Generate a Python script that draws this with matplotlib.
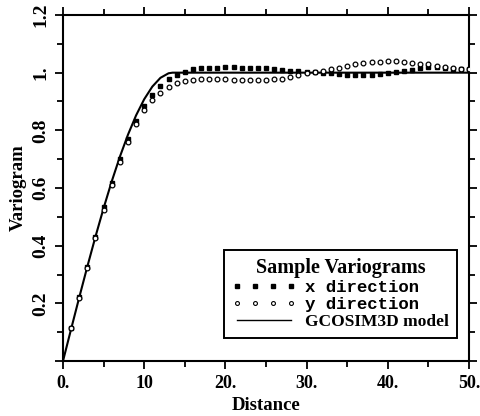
import matplotlib
matplotlib.use("Agg")
import matplotlib.pyplot as plt
from matplotlib.lines import Line2D

# ---- data ----
lag = list(range(1, 51))
x_dir = [0.115, 0.222, 0.326, 0.430, 0.533, 0.618, 0.699, 0.769, 0.833, 0.884,
         0.922, 0.954, 0.977, 0.992, 1.003, 1.012, 1.015, 1.016, 1.017, 1.019,
         1.018, 1.017, 1.017, 1.017, 1.015, 1.013, 1.009, 1.007, 1.005, 1.003,
         1.002, 1.000, 0.998, 0.995, 0.993, 0.993, 0.993, 0.993, 0.995, 0.998,
         1.001, 1.006, 1.010, 1.015, 1.020, 1.020, 1.017, 1.014, 1.014, 1.014]
y_dir = [0.113, 0.220, 0.324, 0.428, 0.525, 0.610, 0.690, 0.760, 0.822, 0.870,
         0.905, 0.931, 0.949, 0.965, 0.972, 0.975, 0.977, 0.977, 0.977, 0.977,
         0.976, 0.975, 0.975, 0.975, 0.975, 0.977, 0.979, 0.984, 0.992, 0.998,
         1.003, 1.006, 1.012, 1.017, 1.024, 1.030, 1.035, 1.036, 1.038, 1.039,
         1.039, 1.037, 1.035, 1.031, 1.029, 1.024, 1.019, 1.015, 1.012, 1.012]
model_h = [0, 1, 2, 3, 4, 5, 6, 7, 8, 9, 10, 11, 12, 13, 13.5, 50]
model_g = [0.0, 0.1109, 0.2206, 0.3278, 0.4314, 0.5302, 0.6228, 0.7081, 0.7848,
           0.8519, 0.9079, 0.9517, 0.9821, 0.9979, 1.0, 1.0]

xticks = [0, 10, 20, 30, 40, 50]
xticklabels = ['0.', '10', '20.', '30.', '40.', '50.']
yticks = [0, 0.2, 0.4, 0.6, 0.8, 1.0, 1.2]
yticklabels = ['', '0.2', '0.4', '0.6', '0.8', '1.', '1.2']

legend_title = 'Sample Variograms'
labels = ['x direction', 'y direction', 'GCOSIM3D model']

plt.rcParams['font.family'] = ['Liberation Serif', 'DejaVu Serif']
plt.rcParams['font.weight'] = 'bold'

fig = plt.figure(figsize=(4.8, 4.16), dpi=100)
ax = fig.add_axes([63/480, 1 - 361/416, 406/480, 346/416])

ax.plot(model_h, model_g, color='black', lw=1.5, zorder=2)
ax.plot(lag, x_dir, ls='none', marker='s', ms=3.0, color='black', zorder=3)
ax.plot(lag, y_dir, ls='none', marker='o', ms=3.4, mfc='white', mec='black',
        mew=0.9, zorder=3)

ax.set_xlim(0, 50)
ax.set_ylim(0, 1.2)
ax.set_xticks(xticks)
ax.set_xticklabels(xticklabels, fontsize=13, fontweight='bold')
ax.set_xticks([5, 15, 25, 35, 45], minor=True)
ax.set_yticks(yticks)
ax.set_yticklabels(yticklabels, fontsize=14, fontweight='bold', rotation=90,
                   va='center')
ax.set_yticks([0.1, 0.3, 0.5, 0.7, 0.9, 1.1], minor=True)

ax.tick_params(which='both', direction='out', top=True, right=True, width=1.3)
ax.tick_params(which='major', length=6)
ax.tick_params(which='minor', length=4)
ax.tick_params(axis='x', pad=4)
ax.tick_params(axis='y', pad=4)
for s in ax.spines.values():
    s.set_linewidth(1.5)

ax.set_xlabel('Distance', fontsize=13.5, fontweight='bold', labelpad=4)
ax.set_ylabel('Variogram', fontsize=13.5, fontweight='bold', labelpad=4)

handles = [
    Line2D([], [], ls='none', marker='s', ms=2.6, color='black'),
    Line2D([], [], ls='none', marker='o', ms=2.8, mfc='white', mec='black', mew=0.8),
    Line2D([], [], color='black', lw=1.0),
]
leg = ax.legend(handles, labels, loc='lower right', bbox_to_anchor=(0.970, 0.066),
                borderaxespad=0, numpoints=4, fontsize=12.5, handlelength=3.7,
                handletextpad=0.5, labelspacing=0.12, borderpad=0.45,
                fancybox=False, framealpha=1, edgecolor='black',
                title=legend_title,
                title_fontproperties={'family': 'Liberation Serif', 'weight': 'bold',
                                      'size': 14.5})
leg.get_frame().set_linewidth(1.4)
texts = leg.get_texts()
texts[0].set_family('Liberation Mono')
texts[1].set_family('Liberation Mono')

fig.savefig('out.png', dpi=100)
